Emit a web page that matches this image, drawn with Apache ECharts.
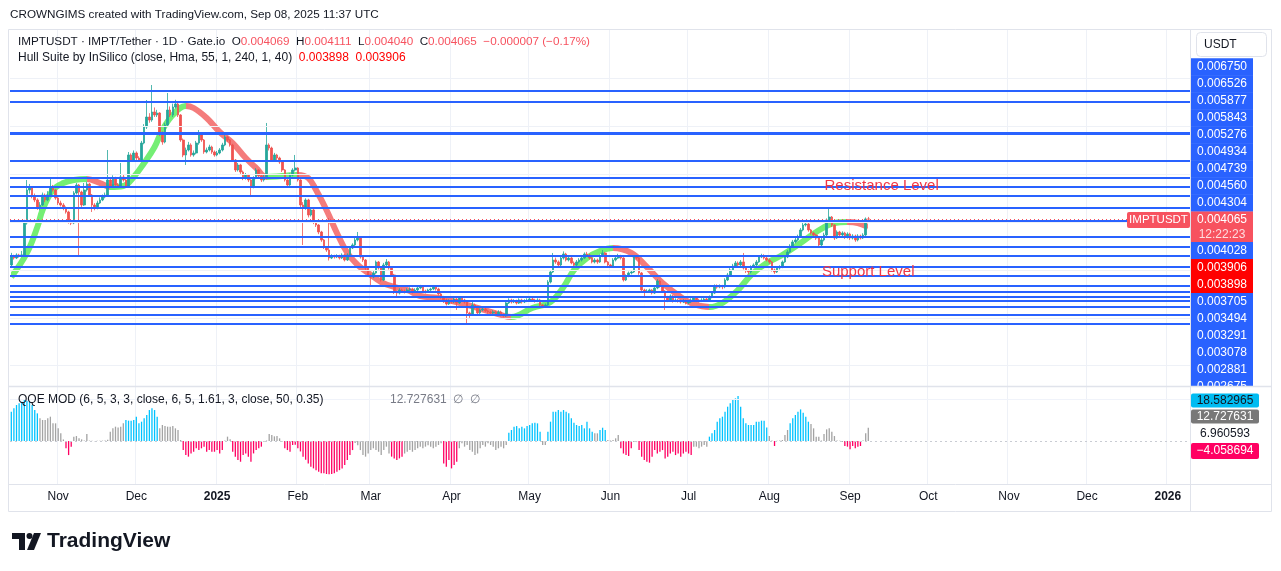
<!DOCTYPE html>
<html>
<head>
<meta charset="utf-8">
<script src="https://cdn.jsdelivr.net/npm/echarts@6/dist/echarts.min.js"></script>
<style>
  html, body { margin: 0; padding: 0; background: #fff; }
  #main { width: 1281px; height: 571px; }
</style>
</head>
<body>
<div id="main"></div>
<script type="text/javascript">
// daily candles starting 2024-10-14, prices in millionths of a USDT
var firstOpen = 3106;
var closes = [
  3273,3252,3315,3294,3315,3984,4674,4716,4548,4465, 4298,4360,4569,4465,4569,4737,4674,4507,4402,4360,
  4298,4214,4005,3984,4611,4778,4632,4360,4674,4799, 4569,4360,4298,4402,4465,4527,4569,4883,4758,4925,
  4778,4758,4946,4883,4758,5406,5301,5447,5343,5301, 5656,5991,6200,6137,6305,6242,6284,5866,5677,6033,
  6346,6242,6409,6472,6242,5719,5406,5510,5615,5406, 5447,5656,5824,5719,5468,5510,5573,5468,5406,5447,
  5510,5615,5782,5719,5615,5301,5092,5197,5050,4925, 4987,4883,4737,4925,5092,4967,4883,4946,5615,5552,
  5301,5406,5343,5259,5092,4883,4778,4987,5092,5134, 4883,4360,4298,4465,4151,4256,4005,3942,3796,3629,
  3482,3420,3252,3294,3273,3294,3252,3315,3210,3315, 3461,3524,3629,3691,3273,3210,3043,2897,2855,2939,
  3169,3043,2792,3106,3169,3043,2897,2541,2520,2583, 2562,2541,2583,2604,2541,2583,2625,2646,2562,2541,
  2583,2604,2646,2604,2500,2437,2374,2291,2353,2332, 2395,2312,2416,2374,2332,2103,2061,2270,2228,2103,
  2166,2186,2145,2124,2103,2124,2082,2124,2061,2040, 2312,2374,2332,2353,2312,2374,2332,2353,2374,2395,
  2374,2353,2374,2270,2249,2270,2750,2960,3210,3169, 3106,3252,3336,3210,3252,3148,3106,3169,3210,3252,
  3336,3315,3252,3169,3210,3169,3294,3357,3169,3106, 3085,3210,3252,3294,3252,2792,2876,2939,2960,3273,
  3252,2939,2583,2541,2562,2583,2520,2625,2771,2667, 2562,2437,2374,2458,2353,2374,2353,2332,2353,2312,
  2332,2374,2416,2374,2353,2374,2395,2374,2437,2520, 2667,2646,2667,2650,2792,2897,3001,3085,3148,3106,
  3169,3043,2980,2960,3064,3106,3169,3273,3294,3252, 3210,3169,3001,2960,3043,3064,3169,3273,3378,3503,
  3587,3629,3691,3838,3942,3963,3838,3775,3733,3670, 3524,3629,3733,4047,4109,3942,3670,3796,3733,3775,
  3691,3754,3670,3712,3629,3712,3670,3733,4069,4065
];
var highs = [
  3360,3320,3350,3340,3400,4050,4883,4800,4750,4600, 4500,4420,4620,4600,4650,4925,4780,4700,4540,4450,
  4400,4330,4240,4060,4650,4820,4800,4660,4820,4840, 4820,4590,4400,4450,4520,4580,4620,5510,4920,4980,
  4950,4820,5239,4990,4910,5468,5440,5500,5480,5380, 5700,6050,6555,6280,6869,6400,6350,6300,5900,6080,
  6702,6420,6480,6560,6500,6260,5750,5560,5680,5650, 5500,5700,5928,5860,5740,5560,5620,5600,5500,5490,
  5550,5660,5820,5800,5740,5640,5320,5240,5220,5080, 5030,5010,4900,4960,5130,5110,4990,4990,6075,5650,
  5580,5450,5430,5370,5280,5110,4900,5020,5130,5406, 5150,4900,4420,4500,4490,4300,4280,4040,3960,3820,
  3650,3500,4088,3330,3320,3330,3320,3350,3340,3350, 3500,3560,3670,3796,3710,3300,3230,3060,2920,2980,
  3200,3190,3060,3150,3230,3190,3060,2920,2580,2620, 2610,2590,2620,2640,2630,2620,2660,2690,2670,2590,
  2610,2630,2688,2670,2630,2520,2460,2400,2390,2380, 2430,2420,2450,2440,2400,2350,2130,2374,2300,2250,
  2200,2220,2210,2170,2150,2160,2150,2160,2150,2090, 2340,2410,2400,2390,2380,2410,2400,2390,2410,2430,
  2420,2400,2410,2400,2290,2300,2790,3000,3357,3260, 3200,3290,3390,3360,3300,3280,3180,3210,3250,3290,
  3370,3380,3340,3280,3250,3240,3330,3420,3380,3190, 3130,3250,3290,3340,3320,3270,2910,2970,3000,3310,
  3310,3270,2960,2610,2600,2610,2600,2660,2810,2790, 2690,2580,2460,2490,2480,2410,2400,2380,2390,2380,
  2370,2410,2450,2440,2400,2410,2430,2420,2470,2560, 2700,2700,2700,2690,2830,2940,3040,3130,3190,3180,
  3210,3357,3060,3010,3100,3140,3210,3310,3340,3330, 3280,3240,3190,3030,3080,3100,3200,3310,3420,3540,
  3630,3680,3740,3880,3990,4020,3990,3860,3800,3760, 3690,3670,3780,4080,4298,4130,3960,3830,3820,3810,
  3800,3790,3780,3750,3740,3750,3740,3770,4100,4111
];
var lows = [
  3080,3220,3230,3260,3270,3290,3950,4600,4500,4420, 4260,4250,4340,4420,4440,4540,4640,4470,4360,4330,
  4250,4180,3970,3940,3960,4580,3315,4320,4340,4640, 4530,4214,4250,4270,4380,4440,4500,4540,4720,4730,
  4740,4720,4730,4850,4720,4740,5260,5280,5300,5260, 5280,5630,5950,6080,6100,6200,6200,5800,5620,5650,
  6000,6200,6200,6380,6200,5680,5360,5197,5480,5370, 5370,5420,5620,5680,5430,5440,5480,5430,5370,5380,
  5420,5480,5590,5680,5580,5260,5050,5060,5010,4880, 4890,4840,4527,4710,4900,4930,4840,4850,4920,5500,
  5260,5280,5300,5220,5050,4850,4740,4760,4960,5060, 4850,4300,3524,4260,4100,4120,3960,3900,3750,3590,
  3440,3380,3200,3230,3240,3250,3220,3230,3180,3190, 3300,3440,3500,3600,3240,3170,3000,2860,2646,2830,
  2920,3010,2760,2770,3080,3010,2860,2500,2450,2490, 2530,2510,2520,2560,2510,2520,2560,2600,2530,2510,
  2520,2560,2580,2570,2470,2400,2312,2260,2270,2300, 2310,2166,2290,2340,2300,1893,2000,2040,2190,2070,
  2080,2140,2120,2090,2080,2080,2050,2060,2030,2010, 2020,2290,2300,2310,2280,2290,2300,2310,2330,2350,
  2340,2320,2330,2240,2220,2220,2250,2720,2940,3130, 3070,3080,3220,3180,3180,3120,3070,3080,3140,3180,
  3230,3280,3220,3140,3140,3130,3150,3270,3140,3070, 3050,3060,3180,3230,3220,2760,2770,2850,2910,2940,
  3220,2900,2540,2437,2520,2540,2490,2500,2600,2630, 2530,2166,2330,2350,2320,2330,2320,2300,2310,2280,
  2290,2310,2350,2340,2320,2330,2350,2340,2350,2410, 2500,2610,2620,2600,2620,2770,2870,2980,3060,3070,
  3080,3010,2940,2910,2930,3040,3080,3150,3250,3220, 3180,3130,2970,2920,2940,3010,3040,3150,3250,3360,
  3480,3560,3600,3670,3810,3910,3800,3740,3700,3630, 3480,3500,3600,3710,4020,3900,3630,3650,3700,3700,
  3650,3660,3630,3640,3590,3600,3640,3650,3710,4040
];

// Hull Suite band, read at a handful of days (day index, price in 1e-6)
var hullDays   = [0,6,10,12,16,20,24,29,34,38,43,47,51,55,58,62,67,70,75,80,85,90,94,98,103,107,110,114,117,121,125,129,133,137,142,147,152,157,164,175,188,192,200,207,212,216,221,226,231,238,244,250,257,262,268,273,279,284,290,296,303,309,316,321,325,329];
var hullValues = [2855,3357,3900,4256,4674,4820,4883,4904,4820,4737,4758,4946,5238,5573,5928,6242,6430,6388,6179,5887,5656,5343,5134,4946,4960,4980,4990,4925,4674,4256,3775,3357,3106,2939,2750,2646,2583,2458,2416,2270,2061,2019,2207,2332,2646,3001,3252,3399,3461,3357,3064,2729,2437,2291,2228,2312,2583,2897,3148,3315,3566,3796,3984,4005,3984,3898];

// horizontal level drawings and their axis tags
var levels = [0.006750,0.006526,0.005877,0.005843,0.005276,0.004934,0.004739,0.004560,0.004304,0.004028,
              0.003705,0.003494,0.003291,0.003078,0.002881,0.002675,0.002556,0.002443,0.002360,0.002234,0.002067,0.001879];
var priceGrid = [0.001,0.002,0.003,0.004,0.005,0.006,0.007];
var hullLast = [0.003898, 0.003906];
// text drawings: [day index, price, text]
var notes = [[311.5, 0.004755, 'Resistance Level'], [310.5, 0.002960, 'Support Level']];

// QQE MOD histogram, one bar per day
var qqeValues = [
  28.2,31.4,34.6,36.2,37.8,39.4,38.8,37.8,34.6,29.8, 26.6,21.8,20.2,20.2,21.8,23.4,17,17,12.2,7.4,
  1.5,-7,-13.5,-5.4,4.2,4.8,2.6,1.6,0.5,6.7, 0.4,0.2,-0.3,0.3,0.2,0.4,0.6,1.2,9,12.2,
  13.8,13.1,13.8,17,20.2,19.6,19.6,20.2,23.4,17, 18.6,21.8,25,29.8,31.4,29.8,23.4,12.2,15.4,14.4,
  13.8,13.8,14.4,12.2,10.6,1,-8.7,-13.5,-15,-11.9, -10.3,-7,-8.7,-7,-5.4,-10.3,-8.7,-10.3,-10.3,-8.7,
  -11.9,-8.7,0.5,4.2,1.6,-10.3,-15,-18.3,-19.9,-13.5, -11.9,-15,-19.9,-11.9,-8.7,-7,-5.4,-0.6,0.5,6.7,
  5.8,4.5,4.8,2.6,-0.5,-7,-8.7,-10.3,-3.8,-3.5, -7,-10,-15,-18,-21.5,-24.7,-26.3,-28,-29.5,-31,
  -31,-31.7,-32,-31.7,-31,-29.5,-28,-26.3,-23,-18.3, -13.5,-8.7,-2,-4,-8.7,-13.5,-15,-12,-8.7,-7,
  -8.7,-10.3,-13.5,-8.7,-5.4,-12,-15,-16.7,-18.3,-16.7, -15,-12,-10.3,-8.7,-10.3,-8.7,-7,-5.4,-7,-5.4,
  -4,-5.4,-7,-5.4,-3.8,-2.2,-21.5,-24.7,-18.3,-26.3, -23,-20,-7,-2.2,-5.4,-3.8,-8.7,-10.3,-13.5,-12,
  -7,-3.8,-5.4,-2.2,-3.8,-5.4,-8.7,-7,-5.4,-7, -3.8,8,10.6,13.8,14.4,12.2,13.8,12.2,14.4,15.4,
  17,17.6,17,9,-3.8,-3.8,9,18.6,28.2,28.2, 29.8,28.2,29.8,28.2,26.6,21.8,17.6,15.4,14.4,15.4,
  12.2,18.6,12.2,9,7.4,7.4,10.6,12.8,10.6,1, 0.5,1,2.6,5.8,-7,-12,-13.5,-14.4,-7,-1,
  -1,-8.7,-15,-18.3,-20,-20.8,-15,-8.7,-12,-10.3, -8.7,-16.7,-15,-12,-10.3,-13.5,-12,-15,-12,-10.3,
  -12,-13.5,-5.4,-5.4,-7,-5.4,-3.8,-5.4,4.2,7.4, 10.6,18.6,21.8,23.4,28.2,33,36.2,39.4,41,43.3,
  33,21.8,17,15.4,15.4,15.4,18.6,18.6,19.6,19.6, 13.1,4.8,0.5,-4.8,0.3,0.5,1,5.8,10.6,17,
  21.8,25,28.2,30.4,27.2,23.4,18.6,16.3,12.2,4.2, 4.2,0.5,6.7,11.2,12.2,9,4.8,0.5,0.3,-1,
  -4.8,-5.4,-8,-4.8,-7,-5.4,-4.8,0.5,7.4,12.727631
];
// bar colour state in runs: b = blue, g = grey, p = pink
var qqeRuns = [['b',11],['g',10],['p',3],['g',20],['b',13],['g',9],['p',16],['g',3],['p',12],['g',8],
               ['p',27],['g',14],['p',5],['g',15],['p',6],['g',19],['b',13],['g',2],['b',18],['g',2],
               ['b',3],['g',5],['p',5],['g',2],['p',21],['g',6],['b',23],['g',2],['p',1],['g',5],
               ['b',8],['g',13],['p',7],['g',3]];
var qqeTags = [18.582965, 12.727631, 6.960593, -4.058694];

var myChart = echarts.init(document.getElementById('main'));

var FONT = 'Liberation Sans, Arial, sans-serif';
var UP = '#26a69a', DOWN = '#ef5350';
var HULL_UP = '#3ee83e', HULL_DOWN = '#f04848';
var qqePalette = { b: '#00c3ff', g: '#a3a3a3', p: '#ff0062' };
var monthNames = ['Jan','Feb','Mar','Apr','May','Jun','Jul','Aug','Sep','Oct','Nov','Dec'];

// axis runs from the first candle to early Jan 2026
var dates = [];
var start = Date.UTC(2024, 9, 14);
for (var i = 0; i < 453; i++) {
    dates.push(new Date(start + i * 86400000).toISOString().slice(0, 10));
}
function monthStart(index, value) { return value.slice(8) === '01'; }

var candleData = closes.map(function (c, i) {
    var o = i === 0 ? firstOpen : closes[i - 1];
    return [o / 1e6, c / 1e6, lows[i] / 1e6, highs[i] / 1e6];
});

var hullData = hullDays.map(function (d, i) { return [d, hullValues[i] / 1e6]; });
var hullPieces = [];
for (i = 0; i < hullDays.length - 1; i++) {
    var piece = { gte: hullDays[i], color: hullValues[i + 1] >= hullValues[i] ? HULL_UP : HULL_DOWN };
    if (i < hullDays.length - 2) piece.lt = hullDays[i + 1]; else piece.lte = hullDays[i + 1];
    hullPieces.push(piece);
}

var qqeStates = [];
qqeRuns.forEach(function (r) { for (var k = 0; k < r[1]; k++) qqeStates.push(r[0]); });
var qqeData = qqeValues.map(function (v, i) {
    return { value: v, itemStyle: { color: qqePalette[qqeStates[i]] } };
});

var last = candleData[candleData.length - 1];
function fmt(v) { return v.toFixed(6); }

// ---------- price scale tags (stacked like TradingView does) ----------
var graphics = [];
function tag(y, text, bg, color, h) {
    h = h || 17;
    graphics.push({ type: 'rect', z: 100, shape: { x: 1191, y: y - h / 2, width: 62, height: h + 0.5 }, style: { fill: bg } });
    graphics.push({ type: 'text', z: 101, x: 1222, y: y, style: { text: text, fill: color, font: '12px ' + FONT, align: 'center', verticalAlign: 'middle' } });
}
for (i = 0; i < 9; i++) tag(66.7 + 17 * i, fmt(levels[i]), '#2962ff', '#fff');
graphics.push({ type: 'rect', z: 100, shape: { x: 1191, y: 211.5, width: 62, height: 31 }, style: { fill: '#f7525f' } });
graphics.push({ type: 'text', z: 101, x: 1222, y: 220, style: { text: fmt(last[1]), fill: '#fff', font: '12px ' + FONT, align: 'center', verticalAlign: 'middle' } });
graphics.push({ type: 'text', z: 101, x: 1222, y: 235, style: { text: '12:22:23', fill: 'rgba(255,255,255,0.8)', font: '12px ' + FONT, align: 'center', verticalAlign: 'middle' } });
tag(250.5, fmt(levels[9]), '#2962ff', '#fff');
tag(267.5, fmt(hullLast[1]), '#ff0000', '#fff');
tag(284.5, fmt(hullLast[0]), '#ff0000', '#fff');
for (i = 10; i < 16; i++) tag(301.5 + 17 * (i - 10), fmt(levels[i]), '#2962ff', '#fff');
// cover what spills under the price pane
graphics.push({ type: 'rect', z: 102, shape: { x: 1191, y: 386.5, width: 80, height: 12 }, style: { fill: '#fff' } });

// QQE pane tags
function qtag(y, v, bg, color, h) {
    if (bg) graphics.push({ type: 'rect', z: 103, shape: { x: 1191, y: y - h / 2, width: 68, height: h, r: 2 }, style: { fill: bg } });
    graphics.push({ type: 'text', z: 104, x: 1225, y: y, style: { text: String(v).replace('-', '\u2212'), fill: color, font: '12px ' + FONT, align: 'center', verticalAlign: 'middle' } });
}
qtag(400.5, qqeTags[0].toFixed(6), '#00bcf2', '#131722', 14);
qtag(416.5, qqeTags[1].toFixed(6), '#787878', '#fff', 14);
qtag(434, qqeTags[2].toFixed(6), null, '#131722', 14);
qtag(451, qqeTags[3].toFixed(6), '#ff0062', '#fff', 16);

// frame, separators, headers
var border = '#e0e3eb';
graphics = graphics.concat([
    { type: 'text', z: 100, x: 10, y: 15, style: { text: 'CROWNGIMS created with TradingView.com, Sep 08, 2025 11:37 UTC', fill: '#131722', font: '11.7px ' + FONT, verticalAlign: 'middle' } },
    { type: 'rect', z: 105, shape: { x: 8.5, y: 29.5, width: 1263, height: 482 }, style: { fill: 'none', stroke: border, lineWidth: 1 } },
    { type: 'line', z: 105, shape: { x1: 1190.5, y1: 30, x2: 1190.5, y2: 511 }, style: { stroke: border, lineWidth: 1 } },
    { type: 'line', z: 105, shape: { x1: 9, y1: 386.5, x2: 1271, y2: 386.5 }, style: { stroke: border, lineWidth: 1.5 } },
    { type: 'line', z: 105, shape: { x1: 9, y1: 484.5, x2: 1271, y2: 484.5 }, style: { stroke: border, lineWidth: 1 } },
    { type: 'rect', z: 100, shape: { x: 1196.5, y: 32.5, width: 70, height: 24, r: 4 }, style: { fill: '#fff', stroke: border } },
    { type: 'text', z: 101, x: 1204, y: 44.5, style: { text: 'USDT', fill: '#131722', font: '12px ' + FONT, verticalAlign: 'middle' } },
    { type: 'text', z: 100, x: 18, y: 42, style: {
        text: 'IMPTUSDT \u00b7 IMPT/Tether \u00b7 1D \u00b7 Gate.io  O{v|' + fmt(last[0]) + '}  H{v|' + fmt(last[3]) +
              '}  L{v|' + fmt(last[2]) + '}  C{v|' + fmt(last[1]) + '}  {v|\u22120.000007 (\u22120.17%)}',
        fill: '#131722', font: '11.7px ' + FONT, verticalAlign: 'middle',
        rich: { v: { fill: '#f7525f', font: '11.7px ' + FONT } } } },
    { type: 'text', z: 100, x: 18, y: 58, style: {
        text: 'Hull Suite by InSilico (close, Hma, 55, 1, 240, 1, 40)  {h|' + fmt(hullLast[0]) + '}  {h|' + fmt(hullLast[1]) + '}',
        fill: '#131722', font: '12px ' + FONT, verticalAlign: 'middle',
        rich: { h: { fill: '#ff0000', font: '12px ' + FONT } } } },
    { type: 'text', z: 100, x: 18, y: 400, style: { text: 'QQE MOD (6, 5, 3, 3, close, 6, 5, 1.61, 3, close, 50, 0.35)', fill: '#131722', font: '12px ' + FONT, verticalAlign: 'middle' } },
    { type: 'text', z: 100, x: 390, y: 400, style: { text: qqeValues[qqeValues.length - 1].toFixed(6) + '  \u2205  \u2205', fill: '#787b86', font: '12px ' + FONT, verticalAlign: 'middle' } },
    { type: 'rect', z: 100, shape: { x: 1127, y: 212, width: 63, height: 16, r: 2 }, style: { fill: '#f7525f' } },
    { type: 'text', z: 101, x: 1158.5, y: 220, style: { text: 'IMPTUSDT', fill: '#fff', font: '11.5px ' + FONT, align: 'center', verticalAlign: 'middle' } },
    // TradingView logo
    { type: 'polygon', z: 100, shape: { points: [[12, 533], [25, 533], [25, 550], [19, 550], [19, 539], [12, 539]] }, style: { fill: '#131722' } },
    { type: 'circle', z: 100, shape: { cx: 29.5, cy: 536, r: 3 }, style: { fill: '#131722' } },
    { type: 'polygon', z: 100, shape: { points: [[34, 533], [41, 533], [34, 550], [27, 550]] }, style: { fill: '#131722' } },
    { type: 'text', z: 100, x: 47, y: 541.5, style: { text: 'TradingView', fill: '#131722', font: 'bold 21px ' + FONT, verticalAlign: 'middle' } }
]);

var option = {
    animation: false,
    backgroundColor: '#fff',
    grid: [
        { left: 10, right: 91, top: 30, height: 356 },
        { left: 10, right: 91, top: 386, height: 98 }
    ],
    xAxis: [
        { type: 'category', gridIndex: 0, data: dates, axisLine: { show: false }, axisTick: { show: false }, axisLabel: { show: false },
          splitLine: { show: true, interval: monthStart, lineStyle: { color: '#eef1f7' } } },
        { type: 'category', gridIndex: 1, data: dates, axisLine: { show: false }, axisTick: { show: false },
          splitLine: { show: true, interval: monthStart, lineStyle: { color: '#eef1f7' } },
          axisLabel: { interval: monthStart, margin: 7, color: '#131722', fontSize: 12, fontFamily: FONT,
              formatter: function (value) {
                  var m = +value.slice(5, 7);
                  return m === 1 ? '{y|' + value.slice(0, 4) + '}' : monthNames[m - 1];
              },
              rich: { y: { fontWeight: 'bold', fontSize: 12, color: '#131722', fontFamily: FONT } } } }
    ],
    yAxis: [
        { type: 'value', gridIndex: 0, min: 0.000576, max: 0.008019, position: 'right', show: false, splitLine: { show: false } },
        { type: 'value', gridIndex: 1, min: -41.3, max: 52.9, position: 'right', show: false, splitLine: { show: false } }
    ],
    visualMap: {
        type: 'piecewise', show: false, seriesIndex: 2, dimension: 0, pieces: hullPieces
    },
    series: [
        {
            name: 'grid', type: 'line', xAxisIndex: 0, yAxisIndex: 0, data: [], z: 0, silent: true,
            markLine: { silent: true, symbol: 'none', precision: 6, label: { show: false },
                lineStyle: { color: '#eef1f7', width: 1, type: 'solid' },
                data: priceGrid.map(function (v) { return { yAxis: v }; }) }
        },
        {
            name: 'IMPTUSDT', type: 'candlestick', xAxisIndex: 0, yAxisIndex: 0, data: candleData, z: 3,
            barWidth: 2.1,
            itemStyle: { color: UP, color0: DOWN, borderColor: UP, borderColor0: DOWN, borderWidth: 0.8 }
        },
        {
            name: 'Hull', type: 'line', xAxisIndex: 0, yAxisIndex: 0, data: hullData, z: 2,
            smooth: 0.4, showSymbol: false, symbol: 'none',
            lineStyle: { width: 6, opacity: 0.72 }
        },
        {
            name: 'QQE', type: 'bar', xAxisIndex: 1, yAxisIndex: 1, data: qqeData, barWidth: 1.3,
            markLine: { silent: true, symbol: 'none', label: { show: false },
                data: [
                    { yAxis: 0, lineStyle: { color: '#c9ccd3', width: 1, type: [2, 3] } },
                    { yAxis: 40, lineStyle: { color: '#f0f3fa', width: 1, type: 'solid' } }
                ] }
        },
        {
            // drawn levels and the last-price line, above the candles
            name: 'levels', type: 'line', xAxisIndex: 0, yAxisIndex: 0, data: [], z: 5, silent: true,
            markLine: { silent: true, symbol: 'none', precision: 6, label: { show: false },
                data: [{ yAxis: last[1], lineStyle: { color: '#f7525f', width: 1, type: [1, 3] } }].concat(
                    levels.map(function (v) { return { yAxis: v, lineStyle: { color: '#2962ff', width: 2, type: 'solid' } }; })) }
        },
        {
            // text drawings sit on top of the level lines
            name: 'notes', type: 'line', xAxisIndex: 0, yAxisIndex: 0, data: [], z: 8, silent: true,
            markPoint: { silent: true, symbol: 'rect', symbolSize: 1, itemStyle: { color: 'rgba(0,0,0,0)' },
                label: { show: true, position: 'right', distance: 0, color: '#f23645', fontSize: 15, fontFamily: FONT },
                data: notes.map(function (n) {
                    return { coord: [n[0], n[1]], value: n[2], label: { formatter: n[2] } };
                }) }
        }
    ],
    graphic: graphics
};

myChart.setOption(option);
</script>
</body>
</html>
